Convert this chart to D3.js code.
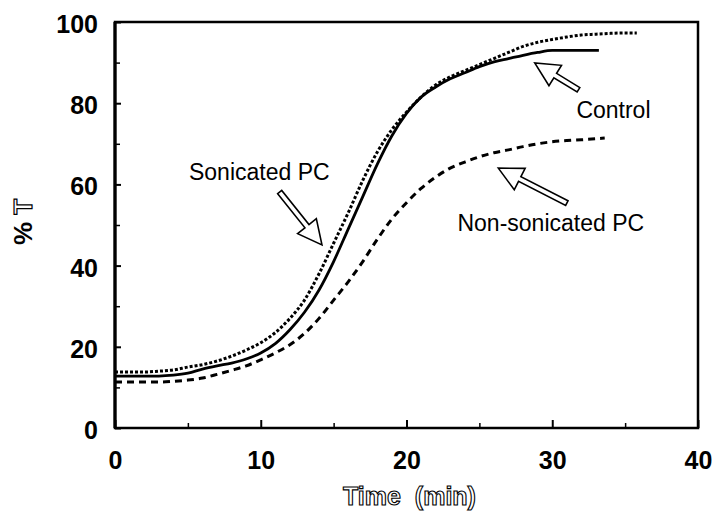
<!DOCTYPE html>
<html>
<head>
<meta charset="utf-8">
<script src="https://cdn.jsdelivr.net/npm/d3@7"></script>
<style>
  html, body { margin: 0; padding: 0; background: #fff; }
  svg { display: block; }
  text { -webkit-font-smoothing: antialiased; }
</style>
</head>
<body>
<svg id="chart" width="713" height="521"></svg>
<script>
// ---- data ----
const controlTime = [0,1,2,3,4,5,6,7,8,9,10,11,12,13,14,15,16,17,18,19,20,21,22,23,24,25,26,27,28,29,30,31,32,33.2];
const controlValues = [12.8,12.8,12.8,12.8,13,13.5,14.5,15.3,16,17,18.5,20.8,24.2,28.5,34,41,49,57,65,72,77.5,81.5,84,86,87.5,89,90.2,91,91.8,92.5,93,93,93,93];

const sonicatedTime = [0,1,2,3,4,5,6,7,8,9,10,11,12,13,14,15,16,17,18,19,20,21,22,23,24,25,26,27,28,29,30,31,32,33,34,35,35.8];
const sonicatedValues = [13.8,13.8,13.8,14,14.3,15,15.6,16.5,17.7,19.2,21,23.5,27,31.5,38,45.5,53,61,68,73.5,77.8,81.5,84.5,86.5,88,89.5,91,92.5,94,95,95.7,96.3,96.8,97,97.2,97.3,97.3];

const nonSonicatedTime = [0,1,2,3,4,5,6,7,8,9,10,11,12,13,14,15,16,17,18,19,20,21,22,23,24,25,26,27,28,29,30,31,32,33.6];
const nonSonicatedValues = [11.3,11.3,11.3,11.3,11.5,11.8,12.3,13.2,14.2,15.3,16.8,18.5,20.5,23.3,27,31.5,36,41,46.5,51.5,55.5,59,61.8,64,65.5,66.8,67.8,68.5,69.3,70,70.5,70.8,71,71.4];

const xTicks = [0,10,20,30,40];
const xMinorTicks = [5,15,25,35];
const yTicks = [0,20,40,60,80,100];
const yMinorTicks = [10,30,50,70,90];

const seriesNames = ["Control", "Sonicated PC", "Non-sonicated PC"];

// annotation arrows: [tailTime, tailValue, tipTime, tipValue]
const arrowSonicated = [11.3, 58.1, 14.2, 45.1];
const arrowControl = [31.8, 83.3, 28.8, 89.9];
const arrowNonSonicated = [31.0, 55.4, 26.3, 64.0];

// ---- layout ----
const svg = d3.select("#chart");
const L = 115, R = 698, T = 22, B = 428;
const x = d3.scaleLinear().domain([0, 40]).range([L, R]);
const y = d3.scaleLinear().domain([0, 100]).range([B, T]);

const tickFont = "'Liberation Sans', Arial, Helvetica, sans-serif";

// frame
svg.append("rect").attr("x", L).attr("y", T).attr("width", R - L).attr("height", B - T)
  .attr("fill", "none").attr("stroke", "#000").attr("stroke-width", 2.5);
svg.append("line").attr("x1", L).attr("x2", L).attr("y1", T).attr("y2", B)
  .attr("stroke", "#000").attr("stroke-width", 3.2);

// x axis (inward ticks)
const xAxis = d3.axisBottom(x).tickValues(xTicks).tickSize(-8).tickPadding(20)
  .tickFormat(d3.format("d"));
const gx = svg.append("g").attr("transform", `translate(0,${B})`).call(xAxis);
gx.select(".domain").remove();
gx.selectAll(".tick line").attr("stroke-width", 2);
gx.selectAll(".tick text").attr("font-family", tickFont).attr("font-size", 25)
  .attr("font-weight", "bold").attr("fill", "#000").attr("dy", "0.35em")
  .attr("y", 32);
const gxm = svg.append("g").attr("transform", `translate(0,${B})`)
  .call(d3.axisBottom(x).tickValues(xMinorTicks).tickSize(-5).tickFormat(""));
gxm.select(".domain").remove();
gxm.selectAll(".tick line").attr("stroke-width", 1.5);

// y axis
const yAxis = d3.axisLeft(y).tickValues(yTicks).tickSize(-6).tickPadding(17)
  .tickFormat(d3.format("d"));
const gy = svg.append("g").attr("transform", `translate(${L},0)`).call(yAxis);
gy.select(".domain").remove();
gy.selectAll(".tick line").attr("stroke-width", 2);
gy.selectAll(".tick text").attr("font-family", tickFont).attr("font-size", 25)
  .attr("font-weight", "bold").attr("fill", "#000").attr("dy", "0.42em");
const gym = svg.append("g").attr("transform", `translate(${L},0)`)
  .call(d3.axisLeft(y).tickValues(yMinorTicks).tickSize(-5).tickFormat(""));
gym.select(".domain").remove();
gym.selectAll(".tick line").attr("stroke-width", 1.5);

// axis titles
svg.append("text")
  .attr("x", (L + R) / 2 + 3).attr("y", 505)
  .attr("text-anchor", "middle")
  .attr("font-family", tickFont).attr("font-size", 25).attr("font-weight", "bold")
  .attr("fill", "#fff").attr("stroke", "#000").attr("stroke-width", 1.1)
  .attr("opacity", 0.99)
  .style("white-space", "pre")
  .text("Time  (min)");

const yt = svg.append("text")
  .attr("transform", `translate(32,${(T + B) / 2 - 3}) rotate(-90)`)
  .attr("text-anchor", "middle")
  .attr("font-family", tickFont).attr("font-size", 26).attr("font-weight", "bold")
  .attr("opacity", 0.99)
  .style("white-space", "pre");
yt.append("tspan").attr("fill", "#000").text("% ");
yt.append("tspan").attr("fill", "#fff").attr("stroke", "#000").attr("stroke-width", 1.2).text("T");

// lines
const line = d3.line().x(d => x(d[0])).y(d => y(d[1])).curve(d3.curveMonotoneX);
const zip = (a, b) => a.map((t, i) => [t, b[i]]);

svg.append("path").datum(zip(nonSonicatedTime, nonSonicatedValues))
  .attr("d", line).attr("fill", "none").attr("stroke", "#000")
  .attr("stroke-width", 3).attr("stroke-dasharray", "7,5");

svg.append("path").datum(zip(sonicatedTime, sonicatedValues))
  .attr("d", line).attr("fill", "none").attr("stroke", "#000")
  .attr("stroke-width", 3).attr("stroke-dasharray", "3,2");

svg.append("path").datum(zip(controlTime, controlValues))
  .attr("d", line).attr("fill", "none").attr("stroke", "#000")
  .attr("stroke-width", 2.8);

// hollow arrows
function hollowArrow(a) {
  const x0 = x(a[0]), y0 = y(a[1]), x1 = x(a[2]), y1 = y(a[3]);
  const dx = x1 - x0, dy = y1 - y0, len = Math.hypot(dx, dy);
  const ux = dx / len, uy = dy / len, px = -uy, py = ux;
  const headLen = 24, headW = 12, shaftW = 2.6;
  const bx = x1 - ux * headLen, by = y1 - uy * headLen;
  const pts = [
    [x0 + px * shaftW, y0 + py * shaftW],
    [bx + px * shaftW, by + py * shaftW],
    [bx + px * headW, by + py * headW],
    [x1, y1],
    [bx - px * headW, by - py * headW],
    [bx - px * shaftW, by - py * shaftW],
    [x0 - px * shaftW, y0 - py * shaftW]
  ];
  svg.append("path").attr("d", "M" + pts.map(p => p.join(",")).join("L") + "Z")
    .attr("fill", "#fff").attr("stroke", "#000").attr("stroke-width", 1.6)
    .attr("stroke-linejoin", "miter");
}
hollowArrow(arrowSonicated);
hollowArrow(arrowControl);
hollowArrow(arrowNonSonicated);

// labels
const labelFont = { family: tickFont, size: 23 };
function label(txt, t, v) {
  svg.append("text").attr("x", x(t)).attr("y", y(v))
    .attr("text-anchor", "middle").attr("dy", "0.36em")
    .attr("font-family", labelFont.family).attr("font-size", labelFont.size)
    .attr("fill", "#000").text(txt);
}
label(seriesNames[1], 9.9, 63.1);
label(seriesNames[0], 34.2, 78.3);
label(seriesNames[2], 29.9, 50.5);
</script>
</body>
</html>
